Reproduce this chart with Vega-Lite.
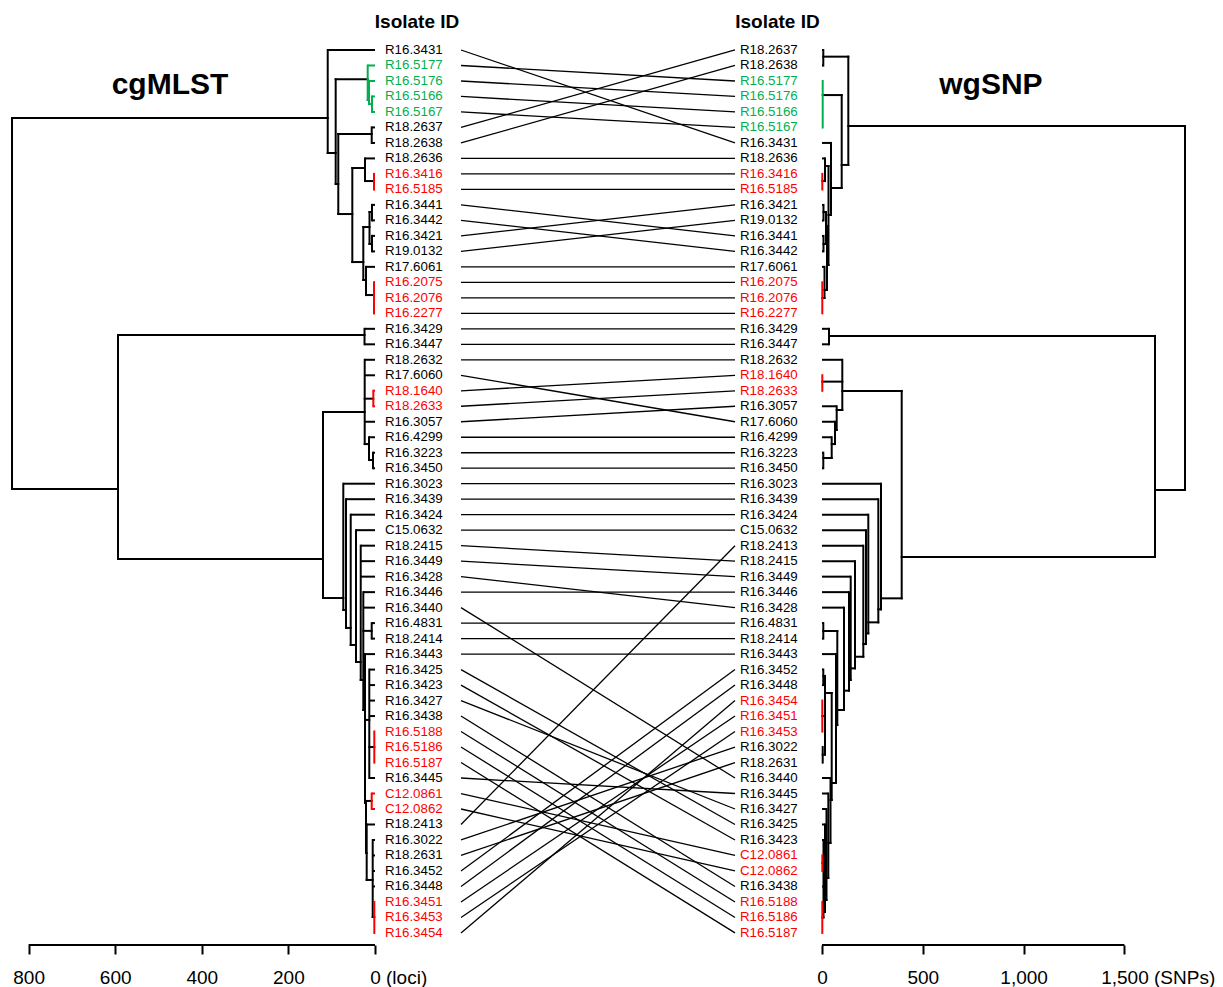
{
"$schema":"https://vega.github.io/schema/vega-lite/v6.json",
"padding":{"left":5,"top":5,"right":5,"bottom":0},
"bounds":"flush",
"spacing":0,
"config":{"view":{"stroke":null},"font":"Liberation Sans","concat":{"spacing":0}},
"datasets":{
"leaves":[
{"id":"R16.3431","grp":"none","lr":1,"rr":7,"lh":109.2,"rh":44.6},
{"id":"R16.5177","grp":"G","lr":2,"rr":3,"lh":16.9,"rh":3.5},
{"id":"R16.5176","grp":"G","lr":3,"rr":4,"lh":13.9,"rh":3.5},
{"id":"R16.5166","grp":"G","lr":4,"rr":5,"lh":6.9,"rh":3.5},
{"id":"R16.5167","grp":"G","lr":5,"rr":6,"lh":6.9,"rh":3.5},
{"id":"R18.2637","grp":"none","lr":6,"rr":1,"lh":7.6,"rh":6.4},
{"id":"R18.2638","grp":"none","lr":7,"rr":2,"lh":7.6,"rh":6.4},
{"id":"R18.2636","grp":"none","lr":8,"rr":8,"lh":23.1,"rh":14.9},
{"id":"R16.3416","grp":"R","lr":9,"rr":9,"lh":2.3,"rh":1.5},
{"id":"R16.5185","grp":"R","lr":10,"rr":10,"lh":2.3,"rh":1.5},
{"id":"R16.3441","grp":"none","lr":11,"rr":13,"lh":6.9,"rh":7.4},
{"id":"R16.3442","grp":"none","lr":12,"rr":14,"lh":6.9,"rh":7.4},
{"id":"R16.3421","grp":"none","lr":13,"rr":11,"lh":6.9,"rh":7.4},
{"id":"R19.0132","grp":"none","lr":14,"rr":12,"lh":6.9,"rh":7.4},
{"id":"R17.6061","grp":"none","lr":15,"rr":15,"lh":20.8,"rh":12.4},
{"id":"R16.2075","grp":"R","lr":16,"rr":16,"lh":2.3,"rh":1.5},
{"id":"R16.2076","grp":"R","lr":17,"rr":17,"lh":2.3,"rh":1.5},
{"id":"R16.2277","grp":"R","lr":18,"rr":18,"lh":2.3,"rh":1.5},
{"id":"R16.3429","grp":"none","lr":19,"rr":19,"lh":24.2,"rh":34.7},
{"id":"R16.3447","grp":"none","lr":20,"rr":20,"lh":24.2,"rh":34.7},
{"id":"R18.2632","grp":"none","lr":21,"rr":21,"lh":23.8,"rh":100.7},
{"id":"R17.6060","grp":"none","lr":22,"rr":25,"lh":23.8,"rh":64.5},
{"id":"R18.1640","grp":"R","lr":23,"rr":22,"lh":3.9,"rh":1.5},
{"id":"R18.2633","grp":"R","lr":24,"rr":23,"lh":3.9,"rh":1.5},
{"id":"R16.3057","grp":"none","lr":25,"rr":24,"lh":23.8,"rh":72.9},
{"id":"R16.4299","grp":"none","lr":26,"rr":26,"lh":13.9,"rh":48.1},
{"id":"R16.3223","grp":"none","lr":27,"rr":27,"lh":4.6,"rh":6.4},
{"id":"R16.3450","grp":"none","lr":28,"rr":28,"lh":4.6,"rh":6.4},
{"id":"R16.3023","grp":"none","lr":29,"rr":29,"lh":73.2,"rh":292.7},
{"id":"R16.3439","grp":"none","lr":30,"rr":30,"lh":67.0,"rh":279.3},
{"id":"R16.3424","grp":"none","lr":31,"rr":31,"lh":56.1,"rh":229.7},
{"id":"C15.0632","grp":"none","lr":32,"rr":32,"lh":43.9,"rh":218.3},
{"id":"R18.2415","grp":"none","lr":33,"rr":34,"lh":33.0,"rh":163.7},
{"id":"R16.3449","grp":"none","lr":34,"rr":35,"lh":33.0,"rh":142.4},
{"id":"R16.3428","grp":"none","lr":35,"rr":37,"lh":33.0,"rh":109.1},
{"id":"R16.3446","grp":"none","lr":36,"rr":36,"lh":27.0,"rh":133.9},
{"id":"R16.3440","grp":"none","lr":37,"rr":48,"lh":27.0,"rh":42.2},
{"id":"R16.4831","grp":"none","lr":38,"rr":38,"lh":7.6,"rh":6.4},
{"id":"R18.2414","grp":"none","lr":39,"rr":39,"lh":7.6,"rh":6.4},
{"id":"R16.3443","grp":"none","lr":40,"rr":40,"lh":23.1,"rh":69.4},
{"id":"R16.3425","grp":"none","lr":41,"rr":51,"lh":13.2,"rh":14.9},
{"id":"R16.3423","grp":"none","lr":42,"rr":52,"lh":13.2,"rh":7.4},
{"id":"R16.3427","grp":"none","lr":43,"rr":50,"lh":13.2,"rh":22.3},
{"id":"R16.3438","grp":"none","lr":44,"rr":55,"lh":13.2,"rh":7.4},
{"id":"R16.5188","grp":"R","lr":45,"rr":56,"lh":1.6,"rh":1.5},
{"id":"R16.5186","grp":"R","lr":46,"rr":57,"lh":1.6,"rh":1.5},
{"id":"R16.5187","grp":"R","lr":47,"rr":58,"lh":1.6,"rh":1.5},
{"id":"R16.3445","grp":"none","lr":48,"rr":49,"lh":13.2,"rh":31.3},
{"id":"C12.0861","grp":"R","lr":49,"rr":53,"lh":7.6,"rh":1.5},
{"id":"C12.0862","grp":"R","lr":50,"rr":54,"lh":7.6,"rh":1.5},
{"id":"R18.2413","grp":"none","lr":51,"rr":33,"lh":19.2,"rh":204.9},
{"id":"R16.3022","grp":"none","lr":52,"rr":46,"lh":5.3,"rh":3.5},
{"id":"R18.2631","grp":"none","lr":53,"rr":47,"lh":5.3,"rh":3.5},
{"id":"R16.3452","grp":"none","lr":54,"rr":41,"lh":5.3,"rh":6.4},
{"id":"R16.3448","grp":"none","lr":55,"rr":42,"lh":5.3,"rh":6.4},
{"id":"R16.3451","grp":"R","lr":56,"rr":44,"lh":1.6,"rh":1.5},
{"id":"R16.3453","grp":"R","lr":57,"rr":45,"lh":1.6,"rh":1.5},
{"id":"R16.3454","grp":"R","lr":58,"rr":43,"lh":1.6,"rh":1.5}
],
"lt":[
{"x":838.3,"x2":838.3,"y":5.39,"y2":29.34,"grp":"none"},
{"x":838.3,"x2":109.2,"y":5.39,"y2":5.39,"grp":"none"},
{"x":838.3,"x2":593.5,"y":29.34,"y2":29.34,"grp":"none"},
{"x":593.5,"x2":593.5,"y":19.4,"y2":33.86,"grp":"none"},
{"x":593.5,"x2":24.2,"y":19.4,"y2":19.4,"grp":"none"},
{"x":24.2,"x2":24.2,"y":19,"y2":20,"grp":"none"},
{"x":593.5,"x2":120.1,"y":33.86,"y2":33.86,"grp":"none"},
{"x":109.2,"x2":109.2,"y":1,"y2":7.65,"grp":"none"},
{"x":109.2,"x2":90.8,"y":7.65,"y2":7.65,"grp":"none"},
{"x":90.8,"x2":90.8,"y":2.89,"y2":9.65,"grp":"none"},
{"x":90.8,"x2":16.9,"y":2.89,"y2":2.89,"grp":"none"},
{"x":16.9,"x2":16.9,"y":2,"y2":4.23,"grp":"G"},
{"x":16.9,"x2":13.9,"y":4.23,"y2":4.23,"grp":"G"},
{"x":13.9,"x2":13.9,"y":3,"y2":4.49,"grp":"G"},
{"x":13.9,"x2":6.9,"y":4.49,"y2":4.49,"grp":"G"},
{"x":6.9,"x2":6.9,"y":4,"y2":5,"grp":"G"},
{"x":90.8,"x2":84.8,"y":9.65,"y2":9.65,"grp":"none"},
{"x":84.8,"x2":84.8,"y":6.42,"y2":11.59,"grp":"none"},
{"x":84.8,"x2":7.6,"y":6.42,"y2":6.42,"grp":"none"},
{"x":7.6,"x2":7.6,"y":6,"y2":7,"grp":"none"},
{"x":84.8,"x2":52.4,"y":11.59,"y2":11.59,"grp":"none"},
{"x":52.4,"x2":52.4,"y":8.62,"y2":14.69,"grp":"none"},
{"x":52.4,"x2":23.1,"y":8.62,"y2":8.62,"grp":"none"},
{"x":23.1,"x2":23.1,"y":8,"y2":9.46,"grp":"none"},
{"x":23.1,"x2":2.3,"y":9.46,"y2":9.46,"grp":"none"},
{"x":2.3,"x2":2.3,"y":9,"y2":10,"grp":"R"},
{"x":52.4,"x2":27.0,"y":14.69,"y2":14.69,"grp":"none"},
{"x":27.0,"x2":27.0,"y":12.43,"y2":15.85,"grp":"none"},
{"x":27.0,"x2":12.7,"y":12.43,"y2":12.43,"grp":"none"},
{"x":12.7,"x2":12.7,"y":11.46,"y2":13.52,"grp":"none"},
{"x":12.7,"x2":6.9,"y":11.46,"y2":11.46,"grp":"none"},
{"x":6.9,"x2":6.9,"y":11,"y2":12,"grp":"none"},
{"x":12.7,"x2":6.9,"y":13.52,"y2":13.52,"grp":"none"},
{"x":6.9,"x2":6.9,"y":13,"y2":14,"grp":"none"},
{"x":27.0,"x2":20.8,"y":15.85,"y2":15.85,"grp":"none"},
{"x":20.8,"x2":20.8,"y":15,"y2":16.82,"grp":"none"},
{"x":20.8,"x2":2.3,"y":16.82,"y2":16.82,"grp":"none"},
{"x":2.3,"x2":2.3,"y":16,"y2":18,"grp":"R"},
{"x":120.1,"x2":120.1,"y":24.37,"y2":36.38,"grp":"none"},
{"x":120.1,"x2":23.8,"y":24.37,"y2":24.37,"grp":"none"},
{"x":23.8,"x2":23.8,"y":21,"y2":26.44,"grp":"none"},
{"x":23.8,"x2":3.9,"y":23.51,"y2":23.51,"grp":"none"},
{"x":3.9,"x2":3.9,"y":23,"y2":24,"grp":"R"},
{"x":23.8,"x2":13.9,"y":26.44,"y2":26.44,"grp":"none"},
{"x":13.9,"x2":13.9,"y":26,"y2":27.47,"grp":"none"},
{"x":13.9,"x2":4.6,"y":27.47,"y2":27.47,"grp":"none"},
{"x":4.6,"x2":4.6,"y":27,"y2":28,"grp":"none"},
{"x":120.1,"x2":73.2,"y":36.38,"y2":36.38,"grp":"none"},
{"x":73.2,"x2":73.2,"y":29,"y2":37.15,"grp":"none"},
{"x":73.2,"x2":67.0,"y":37.15,"y2":37.15,"grp":"none"},
{"x":67.0,"x2":67.0,"y":30,"y2":38.31,"grp":"none"},
{"x":67.0,"x2":56.1,"y":38.31,"y2":38.31,"grp":"none"},
{"x":56.1,"x2":56.1,"y":31,"y2":39.41,"grp":"none"},
{"x":56.1,"x2":43.9,"y":39.41,"y2":39.41,"grp":"none"},
{"x":43.9,"x2":43.9,"y":32,"y2":40.51,"grp":"none"},
{"x":43.9,"x2":33.0,"y":40.51,"y2":40.51,"grp":"none"},
{"x":33.0,"x2":33.0,"y":33,"y2":41.67,"grp":"none"},
{"x":33.0,"x2":27.0,"y":41.67,"y2":41.67,"grp":"none"},
{"x":27.0,"x2":27.0,"y":36,"y2":43.61,"grp":"none"},
{"x":27.0,"x2":7.6,"y":38.5,"y2":38.5,"grp":"none"},
{"x":7.6,"x2":7.6,"y":38,"y2":39,"grp":"none"},
{"x":27.0,"x2":23.1,"y":43.61,"y2":43.61,"grp":"none"},
{"x":23.1,"x2":23.1,"y":40,"y2":49.61,"grp":"none"},
{"x":23.1,"x2":13.2,"y":44.25,"y2":44.25,"grp":"none"},
{"x":13.2,"x2":13.2,"y":41,"y2":48,"grp":"none"},
{"x":13.2,"x2":1.6,"y":46,"y2":46,"grp":"none"},
{"x":1.6,"x2":1.6,"y":45,"y2":47,"grp":"R"},
{"x":23.1,"x2":20.8,"y":49.61,"y2":49.61,"grp":"none"},
{"x":20.8,"x2":20.8,"y":49.48,"y2":52.84,"grp":"none"},
{"x":20.8,"x2":7.6,"y":49.48,"y2":49.48,"grp":"none"},
{"x":7.6,"x2":7.6,"y":49,"y2":50,"grp":"R"},
{"x":20.8,"x2":19.2,"y":52.84,"y2":52.84,"grp":"none"},
{"x":19.2,"x2":19.2,"y":51,"y2":54.58,"grp":"none"},
{"x":19.2,"x2":5.3,"y":54.58,"y2":54.58,"grp":"none"},
{"x":5.3,"x2":5.3,"y":52,"y2":56.97,"grp":"none"},
{"x":5.3,"x2":1.6,"y":56.97,"y2":56.97,"grp":"none"},
{"x":1.6,"x2":1.6,"y":56,"y2":58,"grp":"R"}
],
"rt":[
{"x":1800.6,"x2":1800.6,"y":5.91,"y2":29.41,"grp":"none"},
{"x":1800.6,"x2":130.5,"y":5.91,"y2":5.91,"grp":"none"},
{"x":1800.6,"x2":1651.8,"y":29.41,"y2":29.41,"grp":"none"},
{"x":1651.8,"x2":1651.8,"y":19.46,"y2":33.73,"grp":"none"},
{"x":1651.8,"x2":34.7,"y":19.46,"y2":19.46,"grp":"none"},
{"x":34.7,"x2":34.7,"y":19,"y2":20,"grp":"none"},
{"x":1651.8,"x2":395.3,"y":33.73,"y2":33.73,"grp":"none"},
{"x":130.5,"x2":130.5,"y":1.43,"y2":8.42,"grp":"none"},
{"x":130.5,"x2":6.4,"y":1.43,"y2":1.43,"grp":"none"},
{"x":6.4,"x2":6.4,"y":1,"y2":2,"grp":"none"},
{"x":130.5,"x2":97.7,"y":8.42,"y2":8.42,"grp":"none"},
{"x":97.7,"x2":97.7,"y":3.91,"y2":9.91,"grp":"none"},
{"x":97.7,"x2":3.5,"y":3.91,"y2":3.91,"grp":"none"},
{"x":3.5,"x2":3.5,"y":3,"y2":6,"grp":"G"},
{"x":97.7,"x2":44.6,"y":9.91,"y2":9.91,"grp":"none"},
{"x":44.6,"x2":44.6,"y":7,"y2":11.65,"grp":"none"},
{"x":44.6,"x2":32.2,"y":11.65,"y2":11.65,"grp":"none"},
{"x":32.2,"x2":32.2,"y":8.49,"y2":14.88,"grp":"none"},
{"x":32.2,"x2":14.9,"y":8.49,"y2":8.49,"grp":"none"},
{"x":14.9,"x2":14.9,"y":8,"y2":9.46,"grp":"none"},
{"x":14.9,"x2":1.5,"y":9.46,"y2":9.46,"grp":"none"},
{"x":1.5,"x2":1.5,"y":9,"y2":10,"grp":"R"},
{"x":32.2,"x2":24.8,"y":14.88,"y2":14.88,"grp":"none"},
{"x":24.8,"x2":24.8,"y":12.36,"y2":16.49,"grp":"none"},
{"x":24.8,"x2":19.8,"y":12.36,"y2":12.36,"grp":"none"},
{"x":19.8,"x2":19.8,"y":11.46,"y2":13.52,"grp":"none"},
{"x":19.8,"x2":7.4,"y":11.46,"y2":11.46,"grp":"none"},
{"x":7.4,"x2":7.4,"y":11,"y2":12,"grp":"none"},
{"x":19.8,"x2":7.4,"y":13.52,"y2":13.52,"grp":"none"},
{"x":7.4,"x2":7.4,"y":13,"y2":14,"grp":"none"},
{"x":24.8,"x2":12.4,"y":16.49,"y2":16.49,"grp":"none"},
{"x":12.4,"x2":12.4,"y":15,"y2":17.01,"grp":"none"},
{"x":12.4,"x2":1.5,"y":17.01,"y2":17.01,"grp":"none"},
{"x":1.5,"x2":1.5,"y":16,"y2":18,"grp":"R"},
{"x":395.3,"x2":395.3,"y":23.01,"y2":36.4,"grp":"none"},
{"x":395.3,"x2":100.7,"y":23.01,"y2":23.01,"grp":"none"},
{"x":100.7,"x2":100.7,"y":21,"y2":24.24,"grp":"none"},
{"x":100.7,"x2":1.5,"y":22.41,"y2":22.41,"grp":"none"},
{"x":1.5,"x2":1.5,"y":22,"y2":23,"grp":"R"},
{"x":100.7,"x2":72.9,"y":24.24,"y2":24.24,"grp":"none"},
{"x":72.9,"x2":72.9,"y":24,"y2":25.53,"grp":"none"},
{"x":72.9,"x2":64.5,"y":25.53,"y2":25.53,"grp":"none"},
{"x":64.5,"x2":64.5,"y":25,"y2":26.44,"grp":"none"},
{"x":64.5,"x2":48.1,"y":26.44,"y2":26.44,"grp":"none"},
{"x":48.1,"x2":48.1,"y":26,"y2":27.34,"grp":"none"},
{"x":48.1,"x2":6.4,"y":27.34,"y2":27.34,"grp":"none"},
{"x":6.4,"x2":6.4,"y":27,"y2":28,"grp":"none"},
{"x":395.3,"x2":292.7,"y":36.4,"y2":36.4,"grp":"none"},
{"x":292.7,"x2":292.7,"y":29,"y2":37.11,"grp":"none"},
{"x":292.7,"x2":279.3,"y":37.11,"y2":37.11,"grp":"none"},
{"x":279.3,"x2":279.3,"y":30,"y2":37.95,"grp":"none"},
{"x":279.3,"x2":229.7,"y":37.95,"y2":37.95,"grp":"none"},
{"x":229.7,"x2":229.7,"y":31,"y2":38.66,"grp":"none"},
{"x":229.7,"x2":218.3,"y":38.66,"y2":38.66,"grp":"none"},
{"x":218.3,"x2":218.3,"y":32,"y2":39.35,"grp":"none"},
{"x":218.3,"x2":204.9,"y":39.35,"y2":39.35,"grp":"none"},
{"x":204.9,"x2":204.9,"y":33,"y2":40.17,"grp":"none"},
{"x":204.9,"x2":163.7,"y":40.17,"y2":40.17,"grp":"none"},
{"x":163.7,"x2":163.7,"y":34,"y2":40.92,"grp":"none"},
{"x":163.7,"x2":142.4,"y":40.92,"y2":40.92,"grp":"none"},
{"x":142.4,"x2":142.4,"y":35,"y2":41.67,"grp":"none"},
{"x":142.4,"x2":133.9,"y":41.67,"y2":41.67,"grp":"none"},
{"x":133.9,"x2":133.9,"y":36,"y2":42.36,"grp":"none"},
{"x":133.9,"x2":109.1,"y":42.36,"y2":42.36,"grp":"none"},
{"x":109.1,"x2":109.1,"y":37,"y2":43.61,"grp":"none"},
{"x":109.1,"x2":75.9,"y":43.61,"y2":43.61,"grp":"none"},
{"x":75.9,"x2":75.9,"y":38.51,"y2":44.58,"grp":"none"},
{"x":75.9,"x2":6.4,"y":38.51,"y2":38.51,"grp":"none"},
{"x":6.4,"x2":6.4,"y":38,"y2":39,"grp":"none"},
{"x":75.9,"x2":69.4,"y":44.58,"y2":44.58,"grp":"none"},
{"x":69.4,"x2":69.4,"y":40,"y2":48.32,"grp":"none"},
{"x":69.4,"x2":48.1,"y":48.32,"y2":48.32,"grp":"none"},
{"x":48.1,"x2":48.1,"y":42.51,"y2":49.42,"grp":"none"},
{"x":48.1,"x2":14.9,"y":42.51,"y2":42.51,"grp":"none"},
{"x":14.9,"x2":14.9,"y":41.41,"y2":46.49,"grp":"none"},
{"x":14.9,"x2":6.4,"y":41.41,"y2":41.41,"grp":"none"},
{"x":6.4,"x2":6.4,"y":41,"y2":42,"grp":"none"},
{"x":14.9,"x2":1.5,"y":44.0,"y2":44.0,"grp":"none"},
{"x":1.5,"x2":1.5,"y":43,"y2":45,"grp":"R"},
{"x":14.9,"x2":3.5,"y":46.49,"y2":46.49,"grp":"none"},
{"x":3.5,"x2":3.5,"y":46,"y2":47,"grp":"none"},
{"x":48.1,"x2":42.2,"y":49.42,"y2":49.42,"grp":"none"},
{"x":42.2,"x2":42.2,"y":48,"y2":52.19,"grp":"none"},
{"x":42.2,"x2":31.3,"y":52.19,"y2":52.19,"grp":"none"},
{"x":31.3,"x2":31.3,"y":49,"y2":54.45,"grp":"none"},
{"x":31.3,"x2":22.3,"y":54.45,"y2":54.45,"grp":"none"},
{"x":22.3,"x2":22.3,"y":50,"y2":55.87,"grp":"none"},
{"x":22.3,"x2":14.9,"y":55.87,"y2":55.87,"grp":"none"},
{"x":14.9,"x2":14.9,"y":51,"y2":56.65,"grp":"none"},
{"x":14.9,"x2":7.4,"y":56.65,"y2":56.65,"grp":"none"},
{"x":7.4,"x2":7.4,"y":52,"y2":57.0,"grp":"none"},
{"x":7.4,"x2":1.5,"y":53.48,"y2":53.48,"grp":"none"},
{"x":1.5,"x2":1.5,"y":53,"y2":54,"grp":"R"},
{"x":7.4,"x2":1.5,"y":57.0,"y2":57.0,"grp":"none"},
{"x":1.5,"x2":1.5,"y":56,"y2":58,"grp":"R"}
]
},
"hconcat":[
{
"width":370,"height":940,
"layer":[
{"data":{"name":"lt"},"mark":{"type":"rule","strokeWidth":2,"strokeCap":"square"},
"encoding":{
"x":{"field":"x","type":"quantitative","scale":{"domain":[0,854.5],"reverse":true,"nice":false,"zero":false},
"axis":{"values":[0,200,400,600,800],"domain":false,"grid":false,"title":null,"tickSize":9,"tickWidth":2,"tickColor":"#000","labelColor":"#000","labelFontSize":19,"labelFont":"Liberation Sans","labelPadding":14,"labelFlush":false,"labelOverlap":false,"labelBaseline":"top",
"labelExpr":"datum.value == 0 ? '0 (loci)' : format(datum.value, 'd')",
"labelAlign":{"condition":{"test":"datum.value == 0","value":"left"},"value":"center"},
"labelOffset":{"condition":{"test":"datum.value == 0","value":-5.3},"value":0}}},
"x2":{"field":"x2"},
"y":{"field":"y","type":"quantitative","scale":{"domain":[-1.905,58.78],"reverse":true,"nice":false,"zero":false},"axis":null},
"y2":{"field":"y2"},
"color":{"field":"grp","type":"nominal","scale":{"domain":["none","R","G"],"range":["#000000","#ff0000","#00b050"]},"legend":null}}},
{"data":{"name":"leaves"},"mark":{"type":"rule","strokeWidth":2},
"encoding":{
"x":{"field":"lh","type":"quantitative"},
"x2":{"datum":0},
"y":{"field":"lr","type":"quantitative"},
"color":{"field":"grp","type":"nominal","legend":null}}},
{"data":{"values":[{}]},"mark":{"type":"rule","strokeWidth":2,"color":"#000"},
"encoding":{"x":{"datum":0,"type":"quantitative"},"x2":{"datum":800},"y":{"datum":58.78,"type":"quantitative"}}},
{"data":{"values":[{}]},"mark":{"type":"text","text":"cgMLST","fontSize":30,"fontWeight":"bold","color":"#000","align":"center","baseline":"middle"},
"encoding":{"x":{"datum":473.4,"type":"quantitative"},"y":{"datum":3.26,"type":"quantitative"}}}
]
},
{
"width":447,"height":940,
"layer":[
{"data":{"name":"leaves"},"mark":{"type":"rule","strokeWidth":1.3,"color":"#000"},
"encoding":{
"x":{"datum":0.1924,"type":"quantitative","scale":{"domain":[0,1],"nice":false,"zero":false},"axis":null},
"x2":{"datum":0.8054},
"y":{"field":"lr","type":"quantitative","scale":{"domain":[-1.905,58.78],"reverse":true,"nice":false,"zero":false},"axis":null},
"y2":{"field":"rr"}}},
{"data":{"name":"leaves"},"mark":{"type":"text","align":"left","baseline":"middle","fontSize":13.3},
"encoding":{
"x":{"datum":0.0224,"type":"quantitative"},
"y":{"field":"lr","type":"quantitative"},
"text":{"field":"id"},
"color":{"field":"grp","type":"nominal","legend":null}}},
{"data":{"name":"leaves"},"mark":{"type":"text","align":"left","baseline":"middle","fontSize":13.3},
"encoding":{
"x":{"datum":0.8166,"type":"quantitative"},
"y":{"field":"rr","type":"quantitative"},
"text":{"field":"id"},
"color":{"field":"grp","type":"nominal","legend":null}}},
{"data":{"values":[{}]},"mark":{"type":"text","text":"Isolate ID","fontSize":19,"fontWeight":"bold","color":"#000","align":"center","baseline":"middle"},
"encoding":{"x":{"datum":0.094,"type":"quantitative"},"y":{"datum":-0.81,"type":"quantitative"}}},
{"data":{"values":[{}]},"mark":{"type":"text","text":"Isolate ID","fontSize":19,"fontWeight":"bold","color":"#000","align":"center","baseline":"middle"},
"encoding":{"x":{"datum":0.9004,"type":"quantitative"},"y":{"datum":-0.81,"type":"quantitative"}}}
]
},
{
"width":395,"height":940,
"layer":[
{"data":{"name":"rt"},"mark":{"type":"rule","strokeWidth":2,"strokeCap":"square"},
"encoding":{
"x":{"field":"x","type":"quantitative","scale":{"domain":[0,1959.3],"nice":false,"zero":false},
"axis":{"values":[0,500,1000,1500],"domain":false,"grid":false,"title":null,"tickSize":9,"tickWidth":2,"tickColor":"#000","labelColor":"#000","labelFontSize":19,"labelFont":"Liberation Sans","labelPadding":14,"labelFlush":false,"labelOverlap":false,"labelBaseline":"top",
"labelExpr":"datum.value == 1500 ? '1,500 (SNPs)' : format(datum.value, ',d')",
"labelAlign":{"condition":{"test":"datum.value == 1500","value":"left"},"value":"center"},
"labelOffset":{"condition":{"test":"datum.value == 1500","value":-23.7},"value":0}}},
"x2":{"field":"x2"},
"y":{"field":"y","type":"quantitative","scale":{"domain":[-1.905,58.78],"reverse":true,"nice":false,"zero":false},"axis":null},
"y2":{"field":"y2"},
"color":{"field":"grp","type":"nominal","legend":null}}},
{"data":{"name":"leaves"},"mark":{"type":"rule","strokeWidth":2},
"encoding":{
"x":{"field":"rh","type":"quantitative"},
"x2":{"datum":0},
"y":{"field":"rr","type":"quantitative"},
"color":{"field":"grp","type":"nominal","legend":null}}},
{"data":{"values":[{}]},"mark":{"type":"rule","strokeWidth":2,"color":"#000"},
"encoding":{"x":{"datum":0,"type":"quantitative"},"x2":{"datum":1500},"y":{"datum":58.78,"type":"quantitative"}}},
{"data":{"values":[{}]},"mark":{"type":"text","text":"wgSNP","fontSize":30,"fontWeight":"bold","color":"#000","align":"center","baseline":"middle"},
"encoding":{"x":{"datum":838,"type":"quantitative"},"y":{"datum":3.26,"type":"quantitative"}}}
]
}
]
}
